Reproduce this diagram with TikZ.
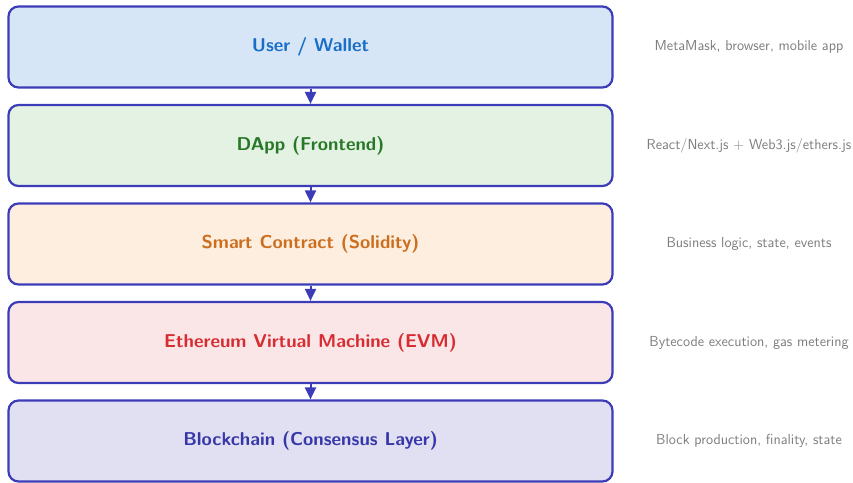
\documentclass[tikz,border=0pt]{standalone}
\usetikzlibrary{arrows.meta}
\definecolor{edgec}{RGB}{60,60,185}
\definecolor{tblue}{RGB}{25,110,200}
\definecolor{tgreen}{RGB}{40,120,40}
\definecolor{torange}{RGB}{205,110,30}
\definecolor{tred}{RGB}{215,45,50}
\definecolor{tindigo}{RGB}{55,55,170}
\definecolor{fblue}{RGB}{215,230,246}
\definecolor{fgreen}{RGB}{227,242,227}
\definecolor{forange}{RGB}{253,238,224}
\definecolor{fred}{RGB}{250,230,230}
\definecolor{findigo}{RGB}{224,224,242}
\definecolor{notec}{RGB}{125,125,125}
\begin{document}
\begin{tikzpicture}[x=1pt,y=-1pt,
  layer/.style={draw=edgec, line width=2.2pt, rounded corners=10pt,
    minimum width=604pt, minimum height=81pt, inner sep=0pt,
    font=\fontsize{18.6}{22}\selectfont\sffamily\bfseries},
  note/.style={text=notec, font=\fontsize{14.5}{17}\selectfont\sffamily},
  flow/.style={-{Triangle[length=12pt,width=11pt]}, draw=edgec, line width=2pt}]
\useasboundingbox (0,0) rectangle (853,482);
\node[layer, fill=fblue, text=tblue] (l1) at (310.5,47) {User / Wallet};
\node[layer, fill=fgreen, text=tgreen] (l2) at (310.5,145.5) {DApp (Frontend)};
\node[layer, fill=forange, text=torange] (l3) at (310.5,244) {Smart Contract (Solidity)};
\node[layer, fill=fred, text=tred] (l4) at (310.5,342.5) {Ethereum Virtual Machine (EVM)};
\node[layer, fill=findigo, text=tindigo] (l5) at (310.5,441) {Blockchain (Consensus Layer)};
\node[note] (n1) at (749,47) {MetaMask, browser, mobile app};
\node[note] (n2) at (749,145.5) {React/Next.js + Web3.js/ethers.js};
\node[note] (n3) at (749,244) {Business logic, state, events};
\node[note] (n4) at (749,342.5) {Bytecode execution, gas metering};
\node[note] (n5) at (749,441) {Block production, finality, state};
\draw[flow] (l1.south) -- (l2.north);
\draw[flow] (l2.south) -- (l3.north);
\draw[flow] (l3.south) -- (l4.north);
\draw[flow] (l4.south) -- (l5.north);
\end{tikzpicture}
\end{document}
